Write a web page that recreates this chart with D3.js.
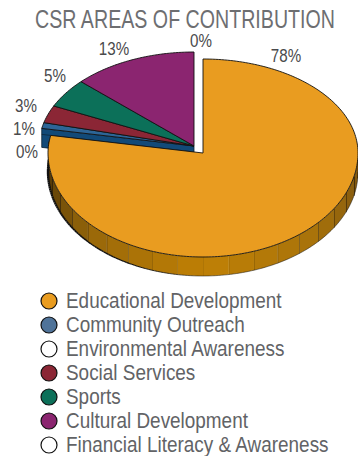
<!DOCTYPE html>
<html>
<head>
<meta charset="utf-8">
<script src="https://cdn.jsdelivr.net/npm/d3@7/dist/d3.min.js"></script>
<style>
html,body{margin:0;padding:0;background:#fff}
svg{display:block}
text{font-family:"Liberation Sans",sans-serif}
</style>
</head>
<body>
<svg id="chart" width="358" height="456"></svg>
<script>
const titleText = "CSR AREAS OF CONTRIBUTION";
const categories = ["Educational Development","Community Outreach","Environmental Awareness","Social Services","Sports","Cultural Development","Financial Literacy & Awareness"];
const shares = [78,1,0,3,5,13,0];
const topColors = ["#e99c20","#2d6596","#ffffff","#8b2635","#0c7059","#8b2570","#ffffff"];
const legendColors = ["#e99c20","#4f7399","#ffffff","#8b2635","#0c7059","#8b2570","#ffffff"];
const labelSpots = [[286,62],[24,135],[27,158],[26,112],[55,82],[114,55],[201,47]];

const svg = d3.select("#chart");
const rx = 155, ryUp = 94, ryDown = 104, depth = 19;
const mainCentre = [203,153], restCentre = [194,146];
const facetStep = 9.6 * Math.PI / 180;

const pie = d3.pie().sort(null).value(d => d).startAngle(0).endAngle(2*Math.PI);
const arcs = pie(shares);

// Tilted disc: the near half of the ellipse is a little taller than the far half.
const project = (c, a, drop = 0) => {
  const cos = Math.cos(a);
  return [c[0] + rx*Math.sin(a), c[1] - (cos > 0 ? ryUp : ryDown)*cos + drop];
};
const sample = (a0, a1) => {
  const n = Math.max(2, Math.ceil(Math.abs(a1-a0)/0.02));
  return d3.range(n+1).map(i => a0 + (a1-a0)*i/n);
};
const line = d3.line();

const shadeFront = d3.scaleLinear()
  .domain([Math.PI/2, Math.PI*0.75, Math.PI, Math.PI*1.25, Math.PI*1.5])
  .range(["#7a5310","#a8720a","#bf8005","#996809","#4a3208"]);

const gRest = svg.append("g");
const gMain = svg.append("g");

function drawRadialWall(g, c, a, fill) {
  const p = project(c, a);
  g.append("path")
    .attr("d", line([c, p, [p[0],p[1]+depth], [c[0],c[1]+depth]]) + "Z")
    .attr("fill", fill).attr("stroke", "#0b2233").attr("stroke-width", 0.8);
}
function drawTop(g, c, d, color) {
  const pts = [c].concat(sample(d.startAngle, d.endAngle).map(a => project(c, a)));
  g.append("path").attr("d", line(pts) + "Z")
    .attr("fill", color).attr("stroke", "#111").attr("stroke-width", 0.9)
    .attr("stroke-linejoin", "round");
}

// Pulled-out group: every slice after the first.
const restArcs = arcs.slice(1).filter(d => d.data > 0);
drawRadialWall(gRest, restCentre, restArcs[0].startAngle, "#124a78");
restArcs.forEach(d => drawTop(gRest, restCentre, d, topColors[arcs.indexOf(d)]));
// Lower rim of the group's first slice shows as a second edge beside the wall.
const firstEdge = project(restCentre, restArcs[0].startAngle, 6);
gRest.append("path")
  .attr("d", line([firstEdge, [restCentre[0], restCentre[1]+6]]))
  .attr("stroke", "#0b2233").attr("stroke-width", 0.7).attr("fill", "none");

// Main slice: faceted outer wall, then the top face.
const big = arcs[0];
const wallEnd = Math.min(big.endAngle, Math.PI*1.5 + 0.12);
const facetStops = [];
for (let k = -9; k <= 10; k++) {
  const a = Math.PI + k*facetStep;
  if (a > Math.PI/2 && a < wallEnd) facetStops.push(a);
}
const bounds = [Math.PI/2, ...facetStops, wallEnd];
d3.pairs(bounds).forEach(([a0, a1]) => {
  const upper = sample(a0, a1).map(a => project(mainCentre, a));
  const lower = sample(a1, a0).map(a => project(mainCentre, a, depth));
  gMain.append("path").attr("d", line(upper.concat(lower)) + "Z")
    .attr("fill", shadeFront((a0+a1)/2));
  const q0 = project(mainCentre, a1), q1 = project(mainCentre, a1, depth);
  const dim = a1 > Math.PI ? (a1-Math.PI)/(Math.PI/2) : (Math.PI-a1)/(Math.PI/2);
  gMain.append("path").attr("d", line([q0, q1]))
    .attr("stroke", "#1c1204").attr("stroke-opacity", 0.25 + 0.75*dim)
    .attr("stroke-width", 0.7 + 0.9*dim).attr("fill", "none");
});
// Bottom rim: heavier toward the left where the wall turns away.
d3.pairs(sample(Math.PI/2, wallEnd)).forEach(([a0, a1]) => {
  const w = a0 > Math.PI ? 0.5 + 1.9*(a0-Math.PI)/(Math.PI/2) : 0.5;
  gMain.append("path")
    .attr("d", line([project(mainCentre, a0, depth), project(mainCentre, a1, depth)]))
    .attr("stroke", "#111").attr("stroke-width", w).attr("fill", "none");
});
drawTop(gMain, mainCentre, big, topColors[0]);

// The face is condensed, so type is narrowed horizontally about its anchor.
const narrow = (sel, x, y, k) => sel.attr("transform", `translate(${x},${y}) scale(${k},1)`);

// Title, narrowed to run across the chart's full span
const title = svg.append("text").attr("text-anchor", "middle")
  .attr("font-size", 25.5).attr("fill", "#6d6e71").text(titleText);
narrow(title, 185, 28, 300 / title.node().getComputedTextLength());

// Slice percentages
svg.append("g").selectAll("text").data(shares).join("text")
  .attr("text-anchor", "middle").attr("font-size", 18.5).attr("fill", "#4a4a4c")
  .text(d => d + "%")
  .each(function(d, i) { narrow(d3.select(this), labelSpots[i][0], labelSpots[i][1], 0.82); });

// Legend
const rowY = d3.scalePoint().domain(categories).range([301,445]);
const legend = svg.append("g").selectAll("g").data(categories).join("g")
  .attr("transform", d => `translate(0,${rowY(d)})`);
legend.append("circle").attr("cx", 49).attr("r", 8)
  .attr("fill", (d,i) => legendColors[i]).attr("stroke", "#111").attr("stroke-width", 1.2);
narrow(legend.append("text").attr("font-size", 21.5).attr("fill", "#626366").text(d => d), 66, 7, 0.88);
</script>
</body>
</html>
